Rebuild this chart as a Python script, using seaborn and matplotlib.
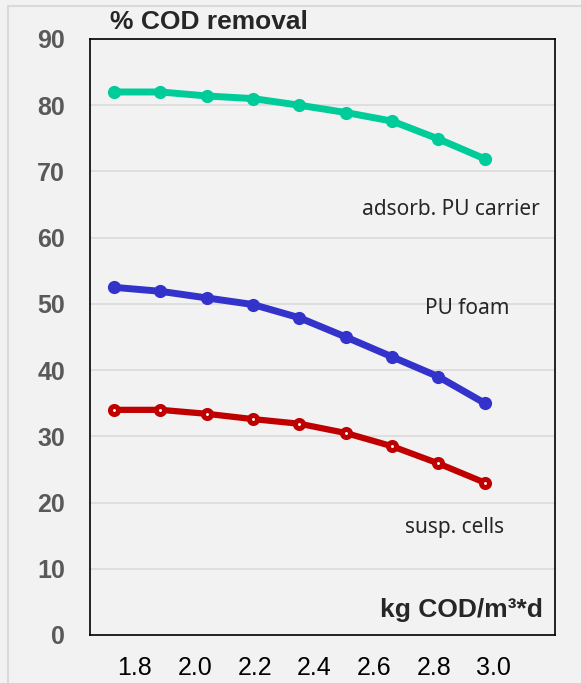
import matplotlib
matplotlib.use("Agg")
import matplotlib.pyplot as plt
import seaborn as sns
import pandas as pd
from matplotlib.lines import Line2D

# values
loading = [1.73, 1.885, 2.04, 2.195, 2.35, 2.505, 2.66, 2.815, 2.97]
adsorb_pu_carrier = [82.0, 82.0, 81.4, 81.0, 80.0, 78.9, 77.6, 74.9, 71.9]
pu_foam = [52.5, 51.9, 50.9, 49.9, 47.9, 45.0, 42.0, 39.0, 35.0]
susp_cells = [34.0, 34.0, 33.4, 32.6, 31.9, 30.5, 28.5, 25.9, 23.0]

x_ticks = [1.8, 2.0, 2.2, 2.4, 2.6, 2.8, 3.0]
y_ticks = [0, 10, 20, 30, 40, 50, 60, 70, 80, 90]

BG = "#f2f2f2"

sns.set_style("white")
plt.rcParams["font.family"] = ["Liberation Sans", "DejaVu Sans"]

fig = plt.figure(figsize=(5.81, 6.83), dpi=100, facecolor=BG)
ax = fig.add_axes([90 / 581, 48 / 683, 465 / 581, 596 / 683])
ax.set_facecolor(BG)

df = pd.DataFrame({"x": loading, "green": adsorb_pu_carrier,
                   "blue": pu_foam, "red": susp_cells})

sns.lineplot(data=df, x="x", y="green", ax=ax, color="#00cc99", lw=5,
             marker="o", markersize=9.5, markeredgewidth=0, zorder=3)
sns.lineplot(data=df, x="x", y="blue", ax=ax, color="#3333cc", lw=5,
             marker="o", markersize=9.5, markeredgewidth=0, zorder=3)
sns.lineplot(data=df, x="x", y="red", ax=ax, color="#c00000", lw=4.5,
             marker="o", markersize=5.8, markeredgewidth=3.6,
             markerfacecolor="white", markeredgecolor="#c00000", zorder=3)

ax.set_xlim(1.6495, 3.2047)
ax.set_ylim(0, 90)
ax.set_xticks(x_ticks)
ax.set_xticklabels([f"{v:.1f}" for v in x_ticks], fontsize=18, color="black")
ax.set_yticks(y_ticks)
ax.set_yticklabels([str(v) for v in y_ticks], fontsize=18,
                   fontweight="bold", color="#595959")
ax.tick_params(axis="x", length=0, pad=15)
ax.tick_params(axis="y", length=0, pad=18)
ax.yaxis.grid(True, color="#d9d9d9", lw=1.1)
ax.set_axisbelow(True)
ax.set_xlabel("")
ax.set_ylabel("")
for s in ax.spines.values():
    s.set_visible(True)
    s.set_color("black")
    s.set_linewidth(1.2)

# series labels
label_font = ["Noto Sans", "DejaVu Sans"]
ax.text(0.776, 0.714, "adsorb. PU carrier", transform=ax.transAxes,
        ha="center", va="center", fontsize=15, family=label_font)
ax.text(0.811, 0.548, "PU foam", transform=ax.transAxes,
        ha="center", va="center", fontsize=15, family=label_font)
ax.text(0.783, 0.181, "susp. cells", transform=ax.transAxes,
        ha="center", va="center", fontsize=15, family=label_font)

# axis titles
ax.text(0.974, 0.042, "kg COD/m³*d", transform=ax.transAxes, ha="right",
        va="center", fontsize=19, fontweight="bold")
fig.text(110 / 581, 1 - 22 / 683, "% COD removal", ha="left", va="center",
         fontsize=19, fontweight="bold")

# light outer frame
fig.add_artist(Line2D([8 / 581, 1], [1 - 6 / 683] * 2, color="#d9d9d9",
                      lw=1.5, transform=fig.transFigure))
fig.add_artist(Line2D([8 / 581] * 2, [0, 1 - 6 / 683], color="#d9d9d9",
                      lw=1.5, transform=fig.transFigure))

fig.savefig("out.png", dpi=100, facecolor=BG)
